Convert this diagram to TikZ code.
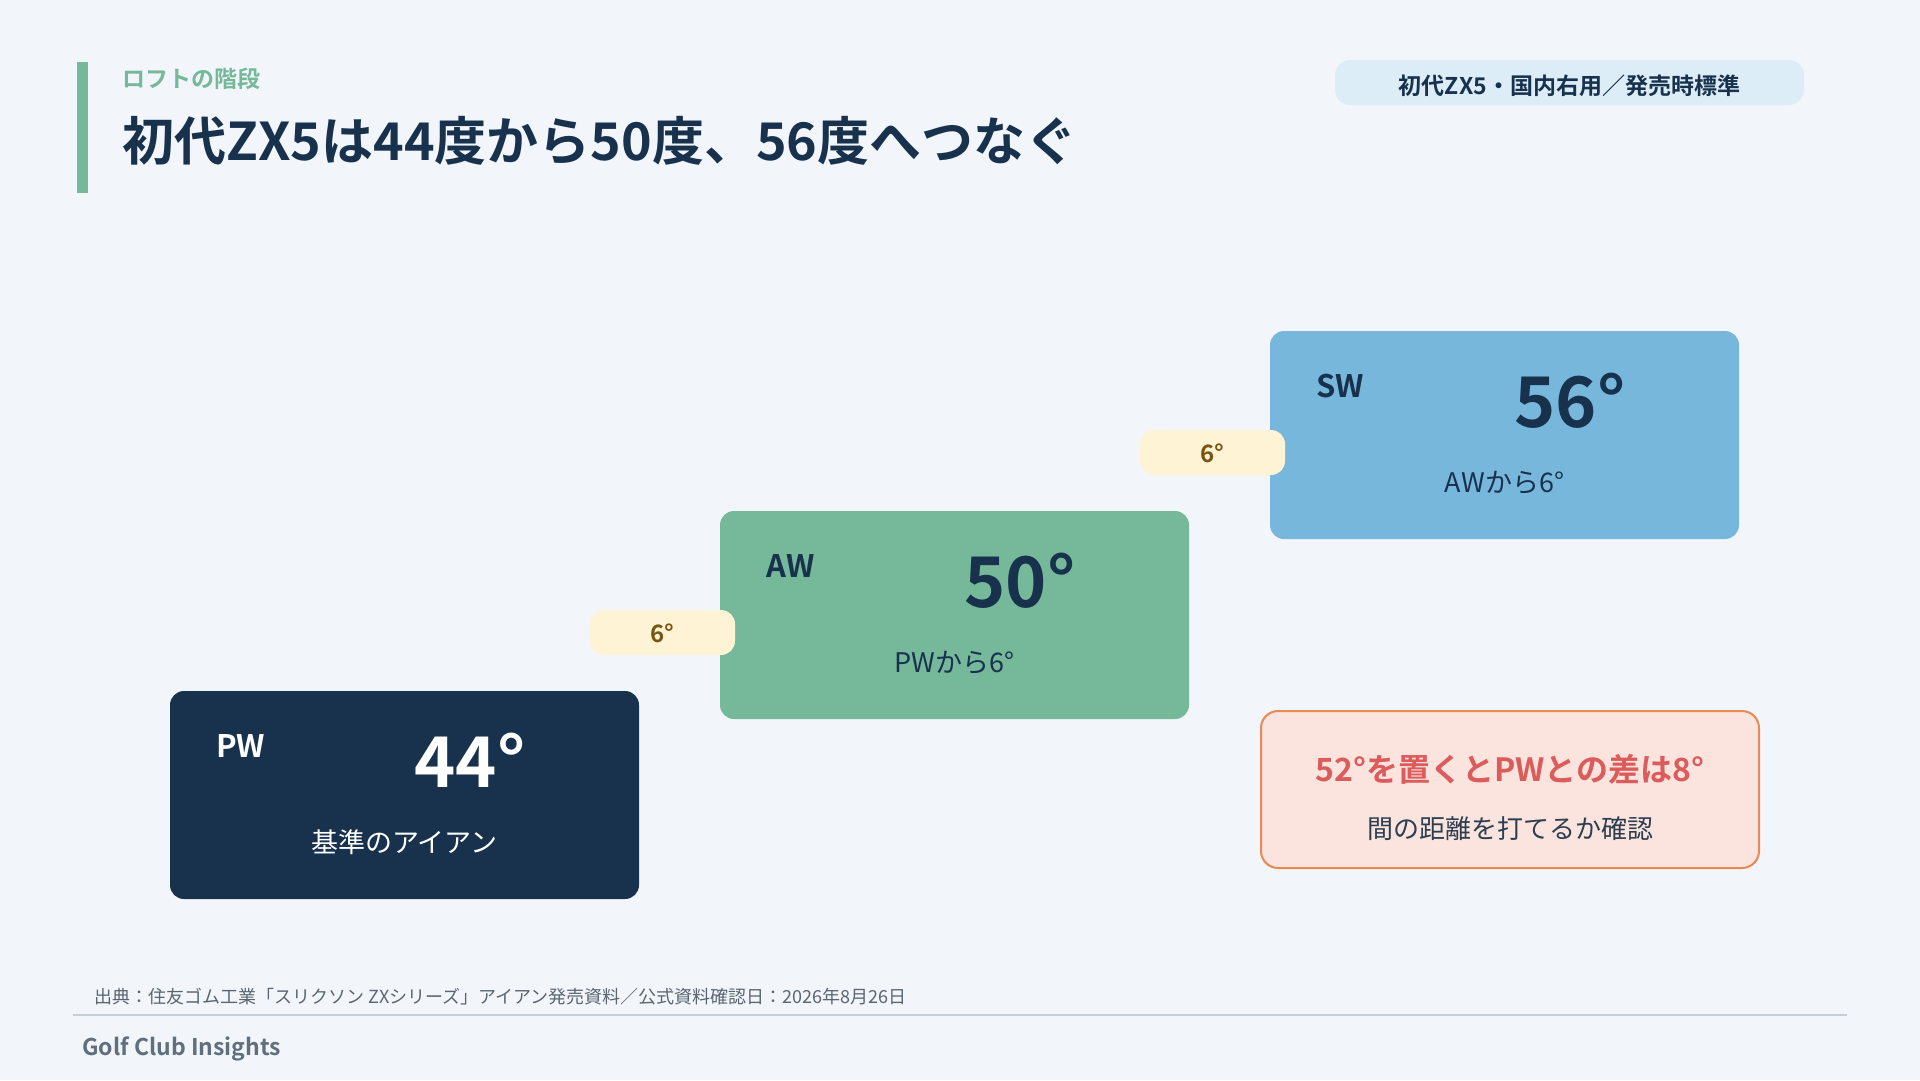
\documentclass[tikz,border=0pt]{standalone}
\usepackage{fontspec}
\setmainfont{Noto Sans CJK JP}[BoldFont={Noto Sans CJK JP Bold}]

\definecolor{pagebg}{HTML}{F2F6FA}
\definecolor{navy}{HTML}{18324D}
\definecolor{leafgreen}{HTML}{76B89A}
\definecolor{skyblue}{HTML}{78B7DC}
\definecolor{chipfill}{HTML}{FFF3D6}
\definecolor{chiptext}{HTML}{7A5512}
\definecolor{tagfill}{HTML}{DCEDF7}
\definecolor{notefill}{HTML}{FBE3DE}
\definecolor{noteedge}{HTML}{E98A55}
\definecolor{notered}{HTML}{DC5B5B}
\definecolor{notetext}{HTML}{2C3E50}
\definecolor{footgray}{HTML}{5A6570}
\definecolor{brandgray}{HTML}{5F6F7D}
\definecolor{rulegray}{HTML}{C5CED6}

\newcommand{\fsz}[1]{\fontsize{#1}{#1}\selectfont}

\tikzset{
  txt/.style={inner sep=0pt},
  clubname/.style={txt, anchor=base west, font=\fsz{31}\bfseries},
  clubdeg/.style={txt, anchor=base, font=\fsz{70}\bfseries},
  clubsub/.style={txt, anchor=base, font=\fsz{27}},
  gapchip/.style={fill=chipfill, rounded corners=14pt},
  gaptext/.style={txt, anchor=base, text=chiptext, font=\fsz{24}\bfseries},
}

\begin{document}
\begin{tikzpicture}[x=1pt, y=-1pt]
  % Page and heading
  \fill[pagebg] (0,0) rectangle (1920,1080);
  \useasboundingbox (0,0) rectangle (1920,1080);
  \fill[leafgreen] (77,62) rectangle (88,193);
  \node[txt, anchor=base west, text=leafgreen, font=\fsz{23}\bfseries] (kicker) at (122,87) {ロフトの階段};
  \node[txt, anchor=base west, text=navy, font=\fsz{52}\bfseries] (title) at (122,160) {初代ZX5は44度から50度、56度へつなぐ};
  \fill[tagfill, rounded corners=15pt] (1335,60) rectangle (1804,105);
  \node[txt, anchor=base, text=navy, font=\fsz{23}\bfseries] (tag) at (1569.5,94) {初代ZX5・国内右用／発売時標準};

  % PW
  \begin{scope}[shift={(170,691)}]
    \fill[navy, rounded corners=14pt] (0,0) rectangle (469,208);
    \node[clubname, text=white] (pw-name) at (46,66) {PW};
    \node[clubdeg, text=white] (pw-deg) at (300,96) {44°};
    \node[clubsub, text=white] (pw-sub) at (234.5,161) {基準のアイアン};
  \end{scope}

  % AW, with the step from PW
  \begin{scope}[shift={(720,511)}]
    \fill[leafgreen, rounded corners=14pt] (0,0) rectangle (469,208);
    \node[clubname, text=navy] (aw-name) at (46,66) {AW};
    \node[clubdeg, text=navy] (aw-deg) at (300,96) {50°};
    \node[clubsub, text=navy] (aw-sub) at (234.5,161) {PWから6°};
    \fill[gapchip] (-130,99) rectangle (15,144);
    \node[gaptext] (aw-gap) at (-57.5,131.5) {6°};
  \end{scope}

  % SW, with the step from AW
  \begin{scope}[shift={(1270,331)}]
    \fill[skyblue, rounded corners=14pt] (0,0) rectangle (469,208);
    \node[clubname, text=navy] (sw-name) at (46,66) {SW};
    \node[clubdeg, text=navy] (sw-deg) at (300,96) {56°};
    \node[clubsub, text=navy] (sw-sub) at (234.5,161) {AWから6°};
    \fill[gapchip] (-130,99) rectangle (15,144);
    \node[gaptext] (sw-gap) at (-57.5,131.5) {6°};
  \end{scope}

  % Note on 52
  \draw[noteedge, fill=notefill, line width=2pt, rounded corners=17pt] (1261,711) rectangle (1759,868);
  \node[txt, anchor=base, text=notered, font=\fsz{32}\bfseries] (note-head) at (1510,781) {52°を置くとPWとの差は8°};
  \node[txt, anchor=base, text=notetext, font=\fsz{26}] (note-sub) at (1510,838) {間の距離を打てるか確認};

  % Footer
  \node[txt, anchor=base west, text=footgray, font=\fsz{18}] (source) at (94,1003) {出典：住友ゴム工業「スリクソン ZXシリーズ」アイアン発売資料／公式資料確認日：2026年8月26日};
  \draw[rulegray, line width=2pt] (73,1015) -- (1847,1015);
  \node[txt, anchor=base west, text=brandgray, font=\fsz{23}\bfseries] (brand) at (82,1055) {Golf Club Insights};
\end{tikzpicture}
\end{document}
